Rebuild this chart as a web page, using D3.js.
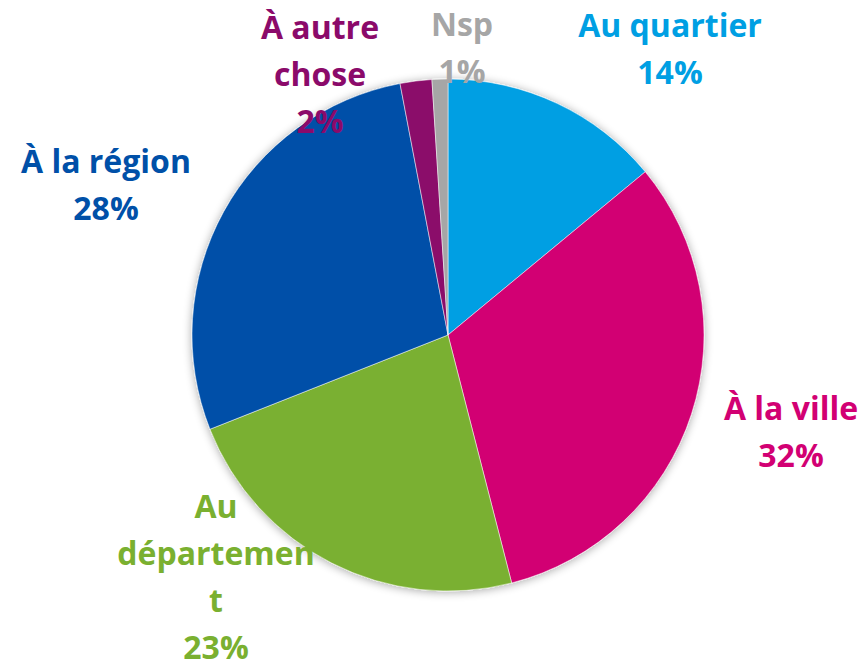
<!DOCTYPE html>
<html>
<head>
<meta charset="utf-8">
<script src="https://cdnjs.cloudflare.com/ajax/libs/d3/7.8.5/d3.min.js"></script>
<style>
  html, body { margin: 0; padding: 0; background: #fff; }
  svg text { font-family: "Open Sans", Lato, sans-serif; font-weight: bold; }
</style>
</head>
<body>
<svg id="chart"></svg>
<script>
const categories = ["Au quartier", "À la ville", "Au département", "À la région", "À autre chose", "Nsp"];
const values = [14, 32, 23, 28, 2, 1];
const colors = ["#009fe3", "#d20073", "#7ab030", "#0050a8", "#8b0a6a", "#a6a6a6"];
// label lines as they wrap in the original
const labelLines = [
    ["Au quartier"],
    ["À la ville"],
    ["Au", "départemen", "t"],
    ["À la région"],
    ["À autre", "chose"],
    ["Nsp"]
];

const width = 866, height = 668;
const cx = 448, cy = 335, radius = 256;
const lineH = 47;
// first-line baseline of each label
const labelPos = [
    { x: 670, y: 37 },
    { x: 791, y: 420 },
    { x: 216, y: 518 },
    { x: 106, y: 173 },
    { x: 320, y: 39 },
    { x: 462, y: 36 }
];

const svg = d3.select("#chart")
    .attr("width", width)
    .attr("height", height);

const defs = svg.append("defs");
const filter = defs.append("filter")
    .attr("id", "shadow")
    .attr("x", "-20%").attr("y", "-20%")
    .attr("width", "140%").attr("height", "140%");
filter.append("feGaussianBlur").attr("in", "SourceAlpha").attr("stdDeviation", 5).attr("result", "blur");
filter.append("feOffset").attr("in", "blur").attr("dx", 0).attr("dy", 1).attr("result", "off");
filter.append("feComponentTransfer").attr("in", "off").attr("result", "soft")
    .append("feFuncA").attr("type", "linear").attr("slope", 0.35);
const merge = filter.append("feMerge");
merge.append("feMergeNode").attr("in", "soft");
merge.append("feMergeNode").attr("in", "SourceGraphic");

const data = categories.map((c, i) => ({ name: c, value: values[i], color: colors[i], lines: labelLines[i] }));

const pie = d3.pie().value(d => d.value).sort(null);
const arc = d3.arc().innerRadius(0).outerRadius(radius);

const g = svg.append("g")
    .attr("transform", `translate(${cx},${cy})`)
    .attr("filter", "url(#shadow)");

g.selectAll("path")
    .data(pie(data))
    .enter().append("path")
    .attr("d", arc)
    .attr("fill", d => d.data.color)
    .attr("stroke", "#fff")
    .attr("stroke-width", 0.5);

const labels = svg.selectAll(".label")
    .data(data)
    .enter().append("text")
    .attr("class", "label")
    .attr("text-anchor", "middle")
    .attr("font-size", "32px")
    .attr("fill", d => d.color);

labels.each(function(d, i) {
    const t = d3.select(this);
    const lines = d.lines.concat([d.value + "%"]);
    lines.forEach((ln, j) => {
        t.append("tspan")
            .attr("x", labelPos[i].x)
            .attr("y", labelPos[i].y + j * lineH)
            .text(ln);
    });
});
</script>
</body>
</html>
